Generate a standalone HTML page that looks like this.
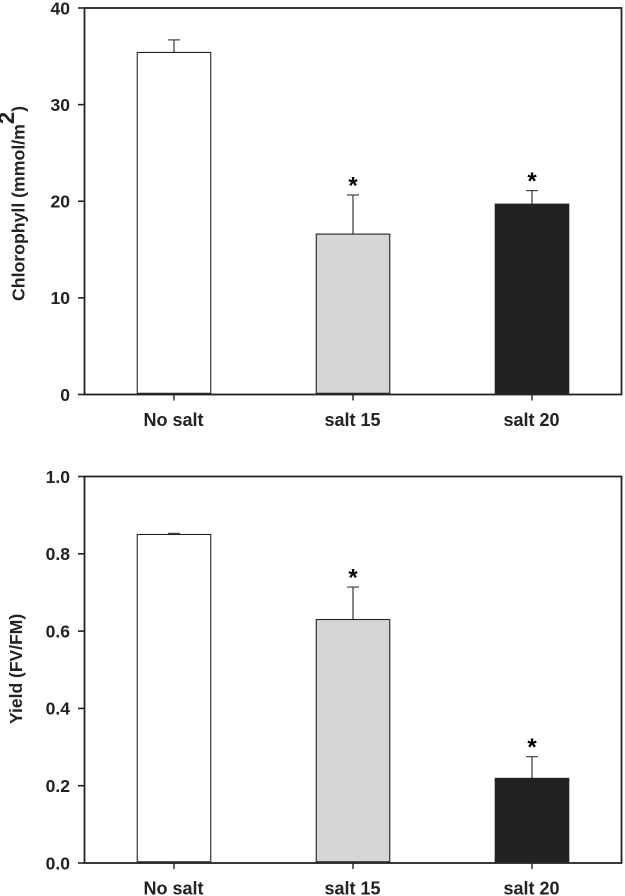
<!DOCTYPE html>
<html>
<head>
<meta charset="utf-8">
<style>
html,body{margin:0;padding:0;background:#fff;}
svg{display:block;}
text{font-family:"Liberation Sans",sans-serif;font-weight:bold;fill:#222;}
</style>
</head>
<body>
<svg id="chart" width="625" height="896" viewBox="0 0 625 896" xmlns="http://www.w3.org/2000/svg"></svg>
<script>
const categories = ["No salt", "salt 15", "salt 20"];
const fills = ["#ffffff", "#d6d6d6", "#222222"];
const chlorophyllValues = [35.4, 16.6, 19.7];
const chlorophyllErrors = [1.3, 4.05, 1.4];
const chlorophyllTicks = [0, 10, 20, 30, 40];
const chlorophyllTickLabels = ["0", "10", "20", "30", "40"];
const chlorophyllMarked = [false, true, true];
const yieldValues = [0.85, 0.63, 0.219];
const yieldErrors = [0.003, 0.084, 0.056];
const yieldTicks = [0, 0.2, 0.4, 0.6, 0.8, 1.0];
const yieldTickLabels = ["0.0", "0.2", "0.4", "0.6", "0.8", "1.0"];
const yieldMarked = [false, true, true];

const svg = document.getElementById('chart');
const NS = 'http://www.w3.org/2000/svg';
function make(tag, attrs, parent) {
  const el = document.createElementNS(NS, tag);
  for (const k in attrs) el.setAttribute(k, attrs[k]);
  parent.appendChild(el);
  return el;
}
function drawPanel(prefix, box, maxY, values, errors, ticks, tickLabels, marked) {
  const group = make('g', {}, svg);
  
  
  const yScale = v => box.bottom - (v / maxY) * (box.bottom - box.top);
  const band = (box.right - box.left) / categories.length;
  const xScale = i => box.left + band * (i + 0.5);
  const barWidth = 73.5;

  values.forEach((v, i) => {
    const cx = xScale(i);
    const errTop = yScale(v + errors[i]);
    const stem = make('line', {x1: cx, x2: cx, y1: yScale(v), y2: errTop, stroke: '#222', 'stroke-width': 1.1}, group);
    
    
    const cap = make('line', {x1: cx - 6, x2: cx + 6, y1: errTop, y2: errTop, stroke: '#333', 'stroke-width': 1.1}, group);
    
    
    const bar = make('rect', {x: cx - barWidth / 2, y: yScale(v), width: barWidth, height: box.bottom - 1.2 - yScale(v), fill: fills[i], stroke: '#222', 'stroke-width': 1.1}, group);
    
    
    if (marked[i]) {
      const star = make('text', {x: cx, y: errTop - 1.5, 'text-anchor': 'middle', 'font-size': 24, style: 'fill:#000'}, group);
      star.textContent = '*';
      
      
    }
    const tick = make('line', {x1: cx, x2: cx, y1: box.bottom, y2: box.bottom + 6, stroke: '#222', 'stroke-width': 1.4}, group);
    
    
    const label = make('text', {x: cx - 0.5, y: box.bottom + 31.5, 'text-anchor': 'middle', 'font-size': 18}, group);
    label.textContent = categories[i];
    
    
  });

  const frame = make('rect', {x: box.left, y: box.top, width: box.right - box.left, height: box.bottom - box.top, fill: 'none', stroke: '#222', 'stroke-width': 1.8}, group);
  
  

  ticks.forEach((t, i) => {
    const y = yScale(t);
    const tick = make('line', {x1: box.left - 6.5, x2: box.left, y1: y, y2: y, stroke: '#222', 'stroke-width': 1.6}, group);
    
    
    const label = make('text', {x: 70, y: y + 6.3, 'text-anchor': 'end', 'font-size': 17.5}, group);
    label.textContent = tickLabels[i];
    
    
  });
}

drawPanel('chlorophyll', {left: 84.5, right: 621.5, top: 8, bottom: 394.5}, 40,
  chlorophyllValues, chlorophyllErrors, chlorophyllTicks, chlorophyllTickLabels, chlorophyllMarked);
drawPanel('yield', {left: 84.5, right: 621.5, top: 476.5, bottom: 863}, 1,
  yieldValues, yieldErrors, yieldTicks, yieldTickLabels, yieldMarked);

const title1 = make('text', {transform: 'translate(24.5,301) rotate(-90)', 'font-size': 17.7}, svg);


const t1a = make('tspan', {}, title1);
t1a.textContent = 'Chlorophyll (mmol/m';
const t1b = make('tspan', {dy: -10.5, 'font-size': 22}, title1);
t1b.textContent = '2';
const t1c = make('tspan', {dy: 10.5}, title1);
t1c.textContent = ')';

const title2 = make('text', {transform: 'translate(22,724) rotate(-90)', 'font-size': 17.5}, svg);
title2.textContent = 'Yield (FV/FM)';


</script>
</body>
</html>
